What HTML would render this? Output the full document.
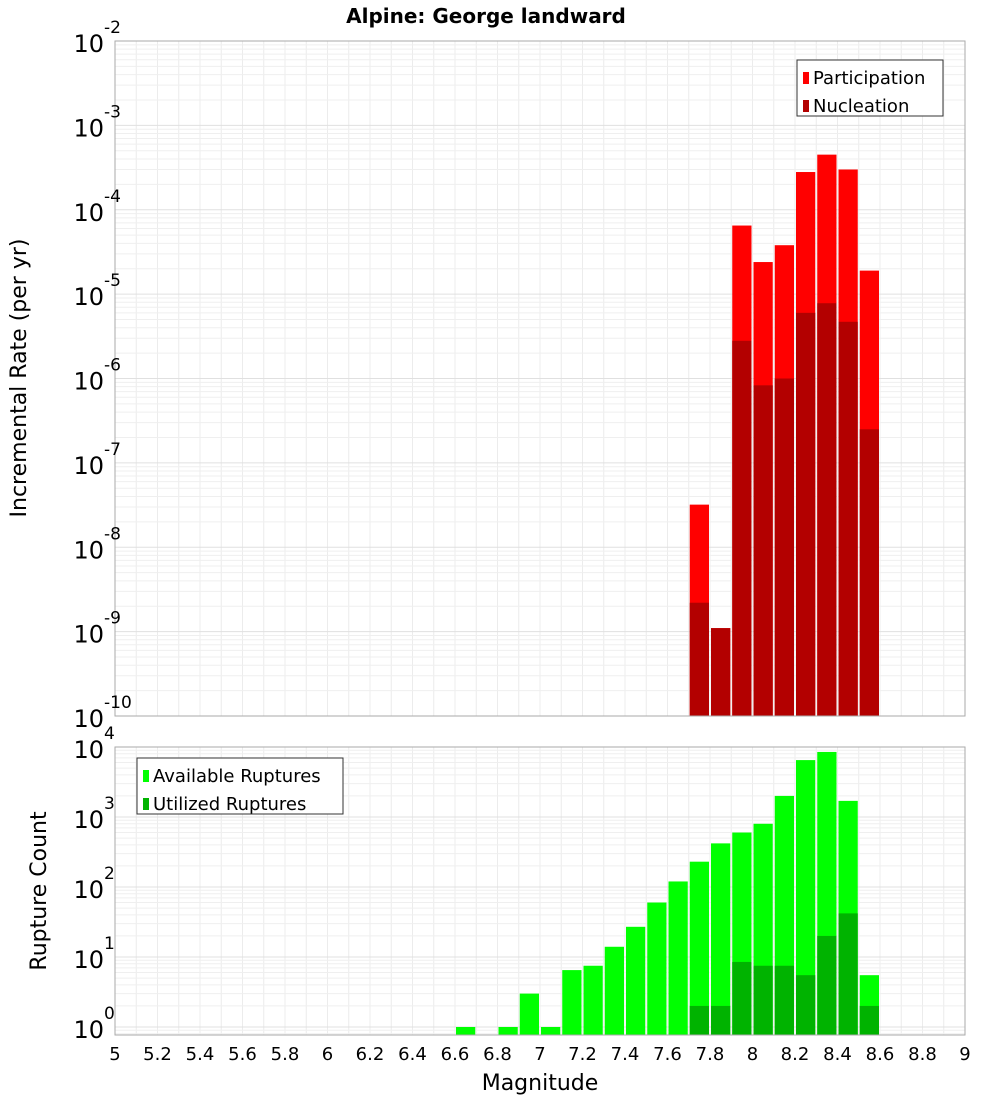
<!DOCTYPE html>
<html><head><meta charset="utf-8"><style>
body{margin:0;background:#fff;font-family:"DejaVu Sans","Liberation Sans",sans-serif;}
svg text{font-family:"DejaVu Sans","Liberation Sans",sans-serif;}
</style></head><body>
<svg id="chart" width="1000" height="1100" xmlns="http://www.w3.org/2000/svg">
<text x="486" y="23" text-anchor="middle" font-size="20" font-weight="bold">Alpine: George landward</text>
<g id="top"></g><g id="bot"></g>
<text transform="translate(26,378) rotate(-90)" text-anchor="middle" font-size="22">Incremental Rate (per yr)</text>
<text transform="translate(46,891) rotate(-90)" text-anchor="middle" font-size="22">Rupture Count</text>
<text x="540" y="1090" text-anchor="middle" font-size="22">Magnitude</text>
</svg>
<script>
const bins=[6.65,6.85,6.95,7.05,7.15,7.25,7.35,7.45,7.55,7.65,7.75,7.85,7.95,8.05,8.15,8.25,8.35,8.45,8.55];
const available=[1,1,3,1,6.5,7.5,14,27,60,120,230,420,600,800,2000,6500,8500,1700,5.5];
const utilizedBins=[7.75,7.85,7.95,8.05,8.15,8.25,8.35,8.45,8.55];
const utilized=[2,2,8.5,7.5,7.5,5.5,20,42,2];
const rateBins=[7.75,7.85,7.95,8.05,8.15,8.25,8.35,8.45,8.55];
const participation=[3.2e-8,1.1e-9,6.5e-5,2.4e-5,3.8e-5,2.8e-4,4.5e-4,3.0e-4,1.9e-5];
const nucleation=[2.2e-9,1.1e-9,2.8e-6,8.3e-7,1.0e-6,6.0e-6,7.8e-6,4.7e-6,2.5e-7];
const xTicks=[5,5.2,5.4,5.6,5.8,6,6.2,6.4,6.6,6.8,7,7.2,7.4,7.6,7.8,8,8.2,8.4,8.6,8.8,9];
const topExps=[-10,-9,-8,-7,-6,-5,-4,-3,-2];
const botExps=[0,1,2,3,4];
const NS="http://www.w3.org/2000/svg";
const X0=115,X1=965;
const xs=m=>X0+(m-5)/4*(X1-X0);
function mk(p,t,a){const e=document.createElementNS(NS,t);for(const k in a)e.setAttribute(k,a[k]);p.appendChild(e);return e;}
function panel(g,top,bottom,lmin,lmax,name){
 const ys=v=>bottom-(Math.log10(v)-lmin)/(lmax-lmin)*(bottom-top);
 const bg=mk(g,'rect',{x:X0,y:top,width:X1-X0,height:bottom-top,fill:'#fff'});
 
 
 for(let m=5;m<=9.001;m+=0.1){const x=xs(m);mk(g,'line',{x1:x,x2:x,y1:top,y2:bottom,stroke:'#ececec','stroke-width':1});}
 for(let e=Math.floor(lmin);e<Math.ceil(lmax);e++){for(let k=1;k<10;k++){const v=k*Math.pow(10,e);const lv=Math.log10(v);if(lv<lmin||lv>lmax)continue;const y=ys(v);mk(g,'line',{x1:X0,x2:X1,y1:y,y2:y,stroke:k==1?'#e0e0e0':'#efefef','stroke-width':1});}}
 return ys;
}
function bar(g,m,v,ys,bottom,fill,name){
 const r=mk(g,'rect',{x:xs(m-0.05)+1,y:ys(v),width:xs(m+0.05)-xs(m-0.05)-2,height:bottom-ys(v),fill:fill});
 
 
}
function yLabels(g,exps,ys){exps.forEach(e=>{const y=ys(Math.pow(10,e));const t=mk(g,'text',{x:104,y:y+11,'text-anchor':'end','font-size':24});t.textContent='10';const s=mk(g,'text',{x:104,y:y-8,'font-size':17});s.textContent=e;
 
 });}
function legend(g,x,y,w,items){mk(g,'rect',{x:x,y:y,width:w,height:56,fill:'#fff',stroke:'#333'});items.forEach((it,i)=>{mk(g,'rect',{x:x+6,y:y+12+i*28,width:6,height:12,fill:it[1]});const t=mk(g,'text',{x:x+16,y:y+24+i*28,'font-size':18});t.textContent=it[0];
 
 });}
// top panel
const gt=document.getElementById('top');
const ysT=panel(gt,41,716,-10,-2,'top');
rateBins.forEach((m,i)=>bar(gt,m,participation[i],ysT,716,'#ff0000','participation-bar'));
rateBins.forEach((m,i)=>bar(gt,m,nucleation[i],ysT,716,'#b30000','nucleation-bar'));
mk(gt,'rect',{x:X0,y:41,width:X1-X0,height:675,fill:'none',stroke:'#aaa'});
yLabels(gt,topExps,ysT);
legend(gt,797,60,146,[['Participation','#ff0000'],['Nucleation','#b30000']]);
// bottom panel
const gb=document.getElementById('bot');
const ysB=panel(gb,747,1035,-8/70,4,'bottom');
bins.forEach((m,i)=>bar(gb,m,available[i],ysB,1035,'#00ff00','available-bar'));
utilizedBins.forEach((m,i)=>bar(gb,m,utilized[i],ysB,1035,'#00b300','utilized-bar'));
mk(gb,'rect',{x:X0,y:747,width:X1-X0,height:288,fill:'none',stroke:'#aaa'});
yLabels(gb,botExps,ysB);
legend(gb,137,758,206,[['Available Ruptures','#00ff00'],['Utilized Ruptures','#00b300']]);
xTicks.forEach(m=>{const t=mk(gb,'text',{x:xs(m),y:1060,'text-anchor':'middle','font-size':18});t.textContent=String(m);
 
 });
</script>
</body></html>
